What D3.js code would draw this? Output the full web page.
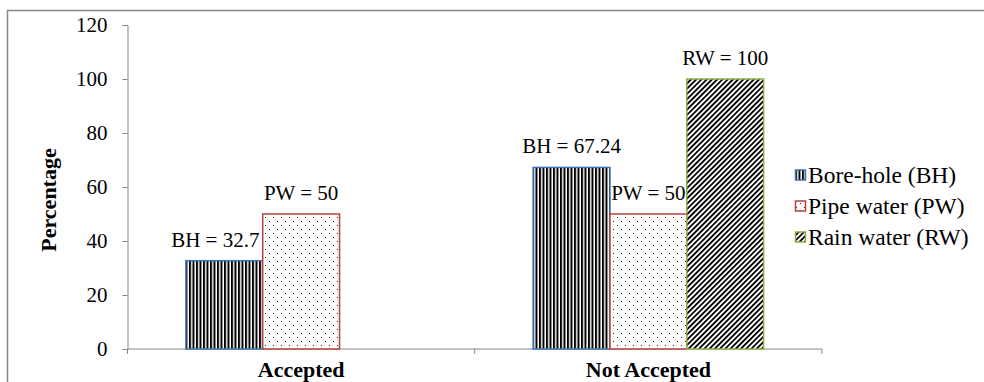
<!DOCTYPE html>
<html>
<head>
<meta charset="utf-8">
<script src="https://cdn.jsdelivr.net/npm/d3@7"></script>
<style>
  html, body { margin: 0; padding: 0; background: #fff; }
  svg { display: block; }
  svg text { font-family: "Liberation Serif", "Times New Roman", serif; fill: #000; }
</style>
</head>
<body>
<svg id="chart" width="984" height="382"></svg>
<script>
// ---- data ----
const categories = ["Accepted", "Not Accepted"];
const seriesNames = ["Bore-hole (BH)", "Pipe water (PW)", "Rain water (RW)"];
const seriesAbbr = ["BH", "PW", "RW"];
const boreHole = [32.7, 67.24];
const pipeWater = [50, 50];
const rainWater = [null, 100];
const yTicks = [0, 20, 40, 60, 80, 100, 120];
const yLabel = "Percentage";

const seriesValues = [boreHole, pipeWater, rainWater];

// ---- styles ----
const strokeColors = ["#3F72B0", "#B5403D", "#8AAE48"];
const patternIds = ["pat-bh", "pat-pw", "pat-rw"];
const axisColor = "#868686";

const svg = d3.select("#chart");
svg.append("rect").attr("width", 984).attr("height", 382).attr("fill", "#fff");

const defs = svg.append("defs");
const pBH = defs.append("pattern").attr("id", "pat-bh").attr("patternUnits", "userSpaceOnUse")
  .attr("width", 3.5).attr("height", 10);
pBH.append("rect").attr("width", 3.5).attr("height", 10).attr("fill", "#fff");
pBH.append("rect").attr("width", 2.0).attr("height", 10).attr("fill", "#000");

const pPW = defs.append("pattern").attr("id", "pat-pw").attr("patternUnits", "userSpaceOnUse")
  .attr("width", 8).attr("height", 8);
pPW.append("rect").attr("width", 8).attr("height", 8).attr("fill", "#fff");
pPW.append("rect").attr("x", 1).attr("y", 1).attr("width", 1).attr("height", 1).attr("fill", "#222");
pPW.append("rect").attr("x", 5).attr("y", 5).attr("width", 1).attr("height", 1).attr("fill", "#222");

const pRW = defs.append("pattern").attr("id", "pat-rw").attr("patternUnits", "userSpaceOnUse")
  .attr("width", 3.7).attr("height", 10).attr("patternTransform", "rotate(45)");
pRW.append("rect").attr("width", 3.7).attr("height", 10).attr("fill", "#fff");
pRW.append("rect").attr("width", 1.8).attr("height", 10).attr("fill", "#000");

svg.append("rect")
  .attr("x", 7.5).attr("y", 10.5).attr("width", 1000).attr("height", 400)
  .attr("fill", "none").attr("stroke", axisColor).attr("stroke-width", 1.5);

const plotLeft = 127.5, plotRight = 822, yTop = 25, yBottom = 349;
const y = d3.scaleLinear().domain([0, 120]).range([yBottom, yTop]);
const x0 = d3.scaleBand().domain(categories).range([plotLeft, plotRight]).padding(0);
const x1 = d3.scaleBand().domain(seriesAbbr).range([0, x0.bandwidth()])
  .paddingInner(0).paddingOuter(0.76);

// y axis (lines from d3 axis, labels drawn explicitly for font control)
const yAxis = d3.axisLeft(y).tickValues(yTicks).tickSize(5).tickFormat(() => "");
const gy = svg.append("g").attr("transform", `translate(${plotLeft},0)`).call(yAxis);
gy.select(".domain").attr("stroke", axisColor);
gy.selectAll(".tick line").attr("stroke", axisColor);
svg.append("g").selectAll("text").data(yTicks).join("text")
  .attr("x", plotLeft - 20).attr("y", d => y(d)).attr("dy", "0.34em")
  .attr("text-anchor", "end").attr("font-size", 21).style("font-size", "21px")
  .text(d => d);

const gx = svg.append("g");
gx.append("line").attr("x1", plotLeft).attr("x2", plotRight)
  .attr("y1", y(0)).attr("y2", y(0)).attr("stroke", axisColor);
const boundaries = categories.map(c => x0(c)).concat([x0(categories[categories.length - 1]) + x0.bandwidth()]);
gx.selectAll("line.tk").data(boundaries).join("line").attr("class", "tk")
  .attr("x1", d => d).attr("x2", d => d).attr("y1", y(0)).attr("y2", y(0) + 5)
  .attr("stroke", axisColor);
gx.selectAll("text.cat").data(categories).join("text").attr("class", "cat")
  .attr("x", d => x0(d) + x0.bandwidth() / 2).attr("y", 377)
  .attr("text-anchor", "middle").style("font-weight", "bold").style("font-size", "22px")
  .text(d => d);

svg.append("text")
  .attr("transform", "translate(56,200) rotate(-90)")
  .attr("text-anchor", "middle").style("font-weight", "bold").style("font-size", "22px")
  .text(yLabel);

const barData = [];
categories.forEach((c, ci) => {
  seriesAbbr.forEach((s, si) => {
    const v = seriesValues[si][ci];
    if (v !== null && v !== undefined) barData.push({ c, s, si, v });
  });
});
const labelShift = { "Accepted|BH": -9 };

svg.append("g").selectAll("rect").data(barData).join("rect")
  .attr("x", d => x0(d.c) + x1(d.s))
  .attr("y", d => y(d.v))
  .attr("width", x1.bandwidth())
  .attr("height", d => y(0) - y(d.v))
  .attr("fill", d => `url(#${patternIds[d.si]})`)
  .attr("stroke", d => strokeColors[d.si])
  .attr("stroke-width", 1.5);

svg.append("g").selectAll("text").data(barData).join("text")
  .attr("x", d => x0(d.c) + x1(d.s) + x1.bandwidth() / 2 + (labelShift[d.c + "|" + d.s] || 0))
  .attr("y", d => y(d.v) - 14)
  .attr("text-anchor", "middle").style("font-size", "21px")
  .text(d => `${d.s} = ${d.v}`);

const legend = svg.append("g").attr("transform", "translate(795,0)");
const rows = legend.selectAll("g").data(seriesNames).join("g")
  .attr("transform", (d, i) => `translate(0,${183 + i * 31})`);
rows.append("rect").attr("x", 0.5).attr("y", -13).attr("width", 10).attr("height", 10)
  .attr("fill", (d, i) => `url(#${patternIds[i]})`)
  .attr("stroke", (d, i) => strokeColors[i]).attr("stroke-width", 1.5);
rows.append("text").attr("x", 13).attr("y", 0).style("font-size", "23.5px").text(d => d);
</script>
</body>
</html>
